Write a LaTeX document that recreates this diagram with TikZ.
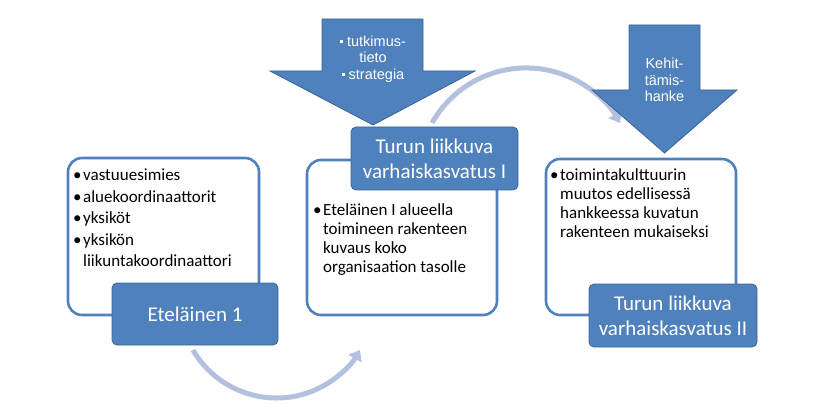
\documentclass[tikz,border=0pt]{standalone}
\usepackage{fontspec}
\setmainfont{Carlito}
\newfontfamily\arialf{Liberation Sans}
\usetikzlibrary{arrows.meta}
\definecolor{bfill}{HTML}{4F81BD}
\definecolor{bedge}{HTML}{3D6594}
\definecolor{arcc}{HTML}{B3C1DE}
\newcommand{\bl}{\leavevmode\llap{\textbullet\kern1.5pt}}
\newcommand{\sqb}{\rule[3pt]{3pt}{3pt}\kern4pt}
\begin{document}
\begin{tikzpicture}[x=1pt,y=1pt,
  wbox/.style={draw=bfill, line width=2.6pt, fill=white, rounded corners=14pt, inner sep=0pt},
  bbox/.style={draw=bedge, line width=0.8pt, fill=bfill, rounded corners=5pt, text=white,
               align=center, font=\fontsize{21}{25}\selectfont, inner sep=0pt},
  barrow/.style={draw=bedge, line width=0.8pt, fill=bfill},
  curv/.style={draw=arcc, line width=5pt, -{Triangle[length=10pt,width=15pt]}},
  wtxt/.style={anchor=base west, inner sep=0pt},
  atxt/.style={text=white, align=center, font=\arialf\fontsize{14.5}{16.5}\selectfont, inner sep=0pt}]
\useasboundingbox (0,0) rectangle (818,418);

% curved arrows (behind)
\coordinate (c1s) at (193,68);
\coordinate (c2s) at (432,295);
\draw[curv] (c1s) arc[start angle=210.2, end angle=329.8, radius=96.6];
\draw[curv] (c2s) arc[start angle=150.7, end angle=29.3, radius=107.8];

% white boxes
\node[wbox, minimum width=191pt, minimum height=157pt] (w1) at (163.5,181.5) {};
\node[wbox, minimum width=190pt, minimum height=155pt] (w2) at (402,180.5) {};
\node[wbox, minimum width=190pt, minimum height=156pt] (w3) at (641,181) {};

% texts in white boxes
\node[wtxt] (t1) at (83,237) {\vtop{\hsize=175pt\fontsize{17}{21.5}\selectfont\raggedright\parindent=0pt
  \bl vastuuesimies\\ \bl aluekoordinaattorit\\ \bl yksiköt\\ \bl yksikön\\ liikuntakoordinaattori}};
\node[wtxt] (t2) at (323,203) {\vtop{\hsize=170pt\fontsize{17}{19}\selectfont\raggedright\parindent=0pt
  \bl Eteläinen I alueella\\ toimineen rakenteen\\ kuvaus koko\\ organisaation tasolle}};
\node[wtxt] (t3) at (560,237) {\vtop{\hsize=170pt\fontsize{17}{19}\selectfont\raggedright\parindent=0pt
  \bl toimintakulttuurin\\ muutos edellisessä\\ hankkeessa kuvatun\\ rakenteen mukaiseksi}};

% blue boxes
\node[bbox, minimum width=166pt, minimum height=62pt] (b1) at (195,104) {Eteläinen 1};
\node[bbox, minimum width=167pt, minimum height=63pt] (b2) at (434.5,259.5) {Turun liikkuva\\varhaiskasvatus I};
\node[bbox, minimum width=168pt, minimum height=63pt] (b3) at (673,102.5) {Turun liikkuva\\varhaiskasvatus II};

% block arrows
\draw[barrow] (322,399) -- (423,399) -- (423,347) -- (475,347) -- (373,293) -- (270,347) -- (322,347) -- cycle;
\draw[barrow] (629,393) -- (700,393) -- (700,328) -- (737,328) -- (664.5,265) -- (592,328) -- (629,328) -- cycle;
\node[atxt] (a1) at (373,359) {\sqb tutkimus-\\tieto\\\sqb strategia};
\node[atxt] (a2) at (664.5,338) {Kehit-\\tämis-\\hanke};
\end{tikzpicture}
\end{document}
